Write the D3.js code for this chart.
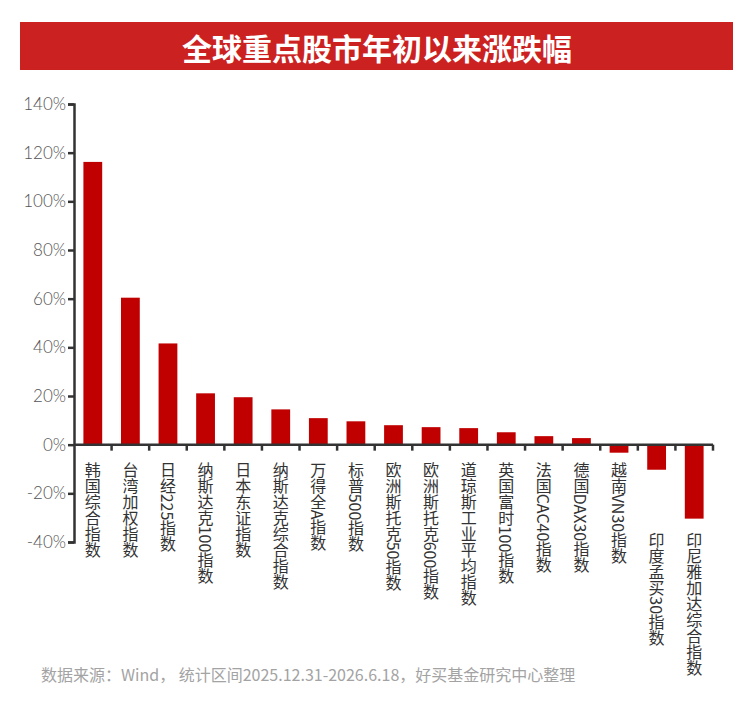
<!DOCTYPE html>
<html>
<head>
<meta charset="utf-8">
<script src="https://cdn.jsdelivr.net/npm/d3@7"></script>
<style>
  body { margin: 0; background: #fff; }
  svg { display: block; font-family: "Noto Sans CJK SC", "Noto Sans", sans-serif; }
</style>
</head>
<body>
<svg id="chart" width="750" height="708"></svg>
<script>
// data
const categories = [
    "韩国综合指数", "台湾加权指数", "日经225指数", "纳斯达克100指数", "日本东证指数",
    "纳斯达克综合指数", "万得全A指数", "标普500指数", "欧洲斯托克50指数", "欧洲斯托克600指数",
    "道琼斯工业平均指数", "英国富时100指数", "法国CAC40指数", "德国DAX30指数", "越南VN30指数",
    "印度孟买30指数", "印尼雅加达综合指数"
];
const values = [116.2, 60.4, 41.6, 21.1, 19.5, 14.5, 10.9, 9.6, 8.0, 7.2, 6.8, 5.1, 3.5, 2.7, -3.3, -10.3, -30.4];
const yTicks = [-40, -20, 0, 20, 40, 60, 80, 100, 120, 140];
const title = "全球重点股市年初以来涨跌幅";
const source = "数据来源：Wind， 统计区间2025.12.31-2026.6.18，好买基金研究中心整理";

const svg = d3.select("#chart");
const margin = {left: 74, right: 37, top: 104, bottom: 166};
const W = 750, H = 708;

// title banner
svg.append("rect")
    .attr("x", 20).attr("y", 22)
    .attr("width", 713).attr("height", 48)
    .attr("fill", "#cc2121");
svg.append("text")
    .attr("x", 377).attr("y", 47)
    .attr("text-anchor", "middle")
    .attr("dominant-baseline", "central")
    .attr("fill", "#fff")
    .style("font-size", "30px")
    .style("font-weight", "bold")
    .text(title);

const x = d3.scaleBand()
    .domain(categories)
    .range([margin.left, W - margin.right])
    .paddingInner(0.5)
    .paddingOuter(0.25);

const y = d3.scaleLinear()
    .domain([-40, 140])
    .range([H - margin.bottom, margin.top]);

// bars
svg.append("g")
    .selectAll("rect")
    .data(values)
    .join("rect")
    .attr("x", (d, i) => x(categories[i]))
    .attr("width", x.bandwidth())
    .attr("y", d => y(Math.max(0, d)))
    .attr("height", d => Math.abs(y(d) - y(0)))
    .attr("fill", "#c00000");

// y axis
const yAxis = svg.append("g")
    .attr("transform", `translate(${margin.left},0)`)
    .call(d3.axisLeft(y).tickValues(yTicks).tickSize(6).tickFormat(d => d + "%"));
yAxis.select(".domain").attr("stroke", "#333").attr("stroke-width", 2.5);
yAxis.selectAll(".tick line").attr("stroke", "#333").attr("stroke-width", 2.5);
yAxis.selectAll(".tick text")
    .attr("x", -8)
    .attr("fill", "#555")
    .style("font-size", "17px")
    .style("font-family", "Lato, 'Noto Sans', sans-serif")
    .style("font-weight", "300");

// x axis along zero with ticks at band boundaries
const x0 = margin.left, x1 = W - margin.right;
const bounds = d3.range(1, categories.length + 1).map(i => x0 + (x1 - x0) * i / categories.length);
const xg = svg.append("g");
xg.append("line")
    .attr("x1", x0).attr("x2", x1)
    .attr("y1", y(0)).attr("y2", y(0))
    .attr("stroke", "#333").attr("stroke-width", 2.5);
xg.selectAll("line.tk")
    .data(bounds)
    .join("line")
    .attr("class", "tk")
    .attr("x1", d => d).attr("x2", d => d)
    .attr("y1", y(0)).attr("y2", y(0) + 6)
    .attr("stroke", "#333").attr("stroke-width", 2.5);

// category labels, written vertically
svg.append("g")
    .selectAll("text")
    .data(categories)
    .join("text")
    .attr("x", d => x(d) + x.bandwidth() / 2)
    .attr("y", (d, i) => values[i] < -5 ? y(-36) : y(0) + 17)
    .style("writing-mode", "vertical-rl")
    .attr("fill", "#333")
    .style("font-size", "16px")
    .text(d => d);

// source note
svg.append("text")
    .attr("x", 41).attr("y", 681)
    .attr("fill", "#a3a3a3")
    .style("font-size", "16px")
    .text(source);
</script>
</body>
</html>
